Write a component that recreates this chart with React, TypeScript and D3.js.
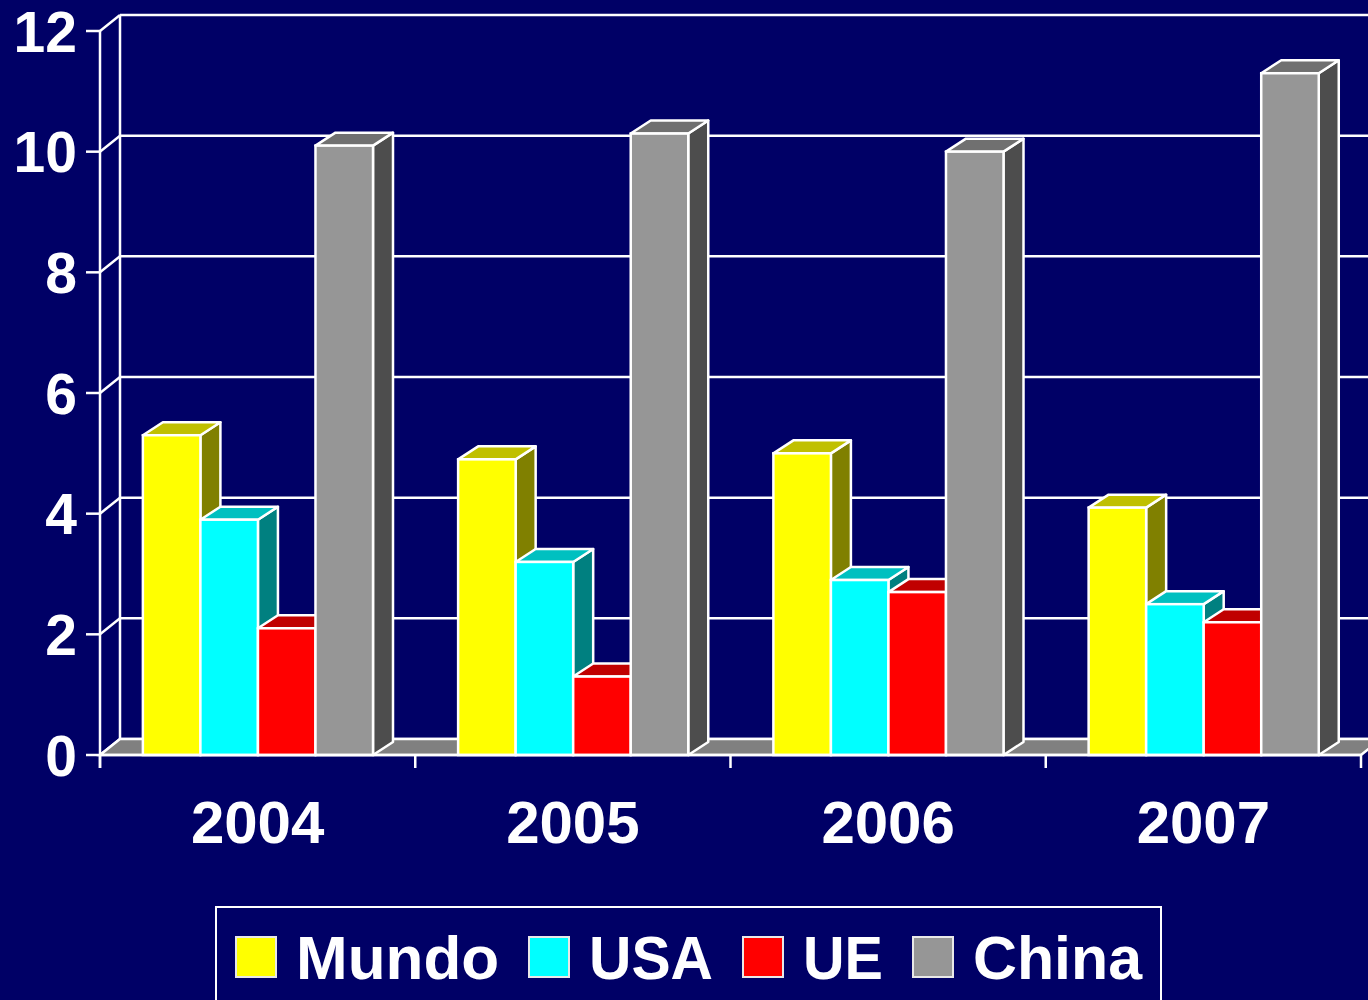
import React, { useEffect, useRef } from "react";
import * as d3 from "d3";

const years = ["2004", "2005", "2006", "2007"];
const seriesNames = ["Mundo", "USA", "UE", "China"];
const mundo = [5.3, 4.9, 5.0, 4.1];
const usa = [3.9, 3.2, 2.9, 2.5];
const ue = [2.1, 1.3, 2.7, 2.2];
const china = [10.1, 10.3, 10.0, 11.3];
const yTicks = [0, 2, 4, 6, 8, 10, 12];

const frontColors = ["#FFFF00", "#00FFFF", "#FF0000", "#969696"];
const topColors = ["#C0C000", "#00C0C0", "#C00000", "#707070"];
const sideColors = ["#808000", "#008080", "#800000", "#4D4D4D"];

const W = 1368;
const H = 1000;
const FONT = "'Liberation Sans', Arial, Helvetica, sans-serif";
const legendSwatchX = [236, 529, 743, 913];

export default function App() {
  const ref = useRef<SVGSVGElement>(null);

  useEffect(() => {
    const svg = d3.select(ref.current);
    svg.selectAll("*").remove();

    const values = [mundo, usa, ue, china];
    const left = 100;
    const right = 1361;
    const y = d3.scaleLinear().domain([0, 12]).range([755, 31]);
    const x0 = d3.scaleBand().domain(years).range([left, right]).padding(0);
    const bw = x0.bandwidth();
    const x1 = d3
      .scaleBand()
      .domain(seriesNames)
      .range([bw * 0.136, bw * 0.866])
      .padding(0);

    const wdx = 20, wdy = -16; // wall depth
    const bdx = 20, bdy = -13; // bar depth
    const SW = 2.5;

    svg.append("rect").attr("width", W).attr("height", H).attr("fill", "#000066");

    const g = svg.append("g");

    yTicks.forEach((t) => {
      g.append("line")
        .attr("x1", left + wdx)
        .attr("x2", W + 30)
        .attr("y1", y(t) + wdy)
        .attr("y2", y(t) + wdy)
        .attr("stroke", "white")
        .attr("stroke-width", SW);
      g.append("line")
        .attr("x1", left)
        .attr("y1", y(t))
        .attr("x2", left + wdx)
        .attr("y2", y(t) + wdy)
        .attr("stroke", "white")
        .attr("stroke-width", SW);
      g.append("line")
        .attr("x1", left - 14)
        .attr("x2", left)
        .attr("y1", y(t))
        .attr("y2", y(t))
        .attr("stroke", "white")
        .attr("stroke-width", SW);
      g.append("text")
        .attr("x", 77)
        .attr("y", y(t))
        .attr("dy", "0.36em")
        .attr("text-anchor", "end")
        .attr("fill", "white")
        .attr("font-family", FONT)
        .attr("font-weight", "bold")
        .attr("font-size", 57)
        .text(String(t));
    });

    g.append("line")
      .attr("x1", left + wdx)
      .attr("x2", left + wdx)
      .attr("y1", y(0) + wdy)
      .attr("y2", y(12) + wdy)
      .attr("stroke", "white")
      .attr("stroke-width", SW);

    const floorPts: [number, number][] = [
      [left, y(0)],
      [right, y(0)],
      [right + wdx, y(0) + wdy],
      [left + wdx, y(0) + wdy],
    ];
    g.append("polygon")
      .attr("points", floorPts.map((p) => p.join(",")).join(" "))
      .attr("fill", "#808080")
      .attr("stroke", "white")
      .attr("stroke-width", SW);

    g.append("line")
      .attr("x1", left)
      .attr("x2", left)
      .attr("y1", y(12))
      .attr("y2", y(0) + 13)
      .attr("stroke", "white")
      .attr("stroke-width", SW);

    years.forEach((yr, i) => {
      seriesNames.forEach((s, j) => {
        const v = values[j][i];
        const xa = (x0(yr) as number) + (x1(s) as number);
        const w = x1.bandwidth();
        const yt = y(v);
        const yb = y(0);
        const bar = g.append("g");
        bar.append("polygon")
          .attr("points", [[xa + w, yb], [xa + w + bdx, yb + bdy], [xa + w + bdx, yt + bdy], [xa + w, yt]].map((p) => p.join(",")).join(" "))
          .attr("fill", sideColors[j])
          .attr("stroke", "white")
          .attr("stroke-width", SW)
          .attr("stroke-linejoin", "round");
        bar.append("polygon")
          .attr("points", [[xa, yt], [xa + w, yt], [xa + w + bdx, yt + bdy], [xa + bdx, yt + bdy]].map((p) => p.join(",")).join(" "))
          .attr("fill", topColors[j])
          .attr("stroke", "white")
          .attr("stroke-width", SW)
          .attr("stroke-linejoin", "round");
        bar.append("rect")
          .attr("x", xa)
          .attr("y", yt)
          .attr("width", w)
          .attr("height", yb - yt)
          .attr("fill", frontColors[j])
          .attr("stroke", "white")
          .attr("stroke-width", SW);
      });
    });

    g.append("line")
      .attr("x1", left)
      .attr("x2", right)
      .attr("y1", y(0))
      .attr("y2", y(0))
      .attr("stroke", "white")
      .attr("stroke-width", SW);

    const tickXs = years.map((yr) => x0(yr) as number).concat([right]);
    tickXs.forEach((tx) => {
      g.append("line")
        .attr("x1", tx)
        .attr("x2", tx)
        .attr("y1", y(0))
        .attr("y2", y(0) + 13)
        .attr("stroke", "white")
        .attr("stroke-width", SW);
    });

    years.forEach((yr) => {
      g.append("text")
        .attr("x", (x0(yr) as number) + bw / 2)
        .attr("y", 843)
        .attr("text-anchor", "middle")
        .attr("fill", "white")
        .attr("font-family", FONT)
        .attr("font-weight", "bold")
        .attr("font-size", 60)
        .text(yr);
    });

    const lg = svg.append("g");
    lg.append("rect")
      .attr("x", 216)
      .attr("y", 907)
      .attr("width", 945)
      .attr("height", 130)
      .attr("fill", "#000066")
      .attr("stroke", "white")
      .attr("stroke-width", 2);
    seriesNames.forEach((s, j) => {
      const sx = legendSwatchX[j];
      lg.append("rect")
        .attr("x", sx)
        .attr("y", 937)
        .attr("width", 40)
        .attr("height", 40)
        .attr("fill", frontColors[j])
        .attr("stroke", "#e8e8e8")
        .attr("stroke-width", 2);
      const nextX = j < seriesNames.length - 1 ? legendSwatchX[j + 1] - 30 : 1142;
      const t = lg.append("text")
        .attr("x", sx + 60)
        .attr("y", 979)
        .attr("fill", "white")
        .attr("font-family", FONT)
        .attr("font-weight", "bold")
        .attr("font-size", 62)
        .text(s);
      const tw = (t.node() as SVGTextElement).getComputedTextLength();
      const avail = nextX - (sx + 60);
      if (Math.abs(tw - avail) > 2) {
        t.attr("textLength", avail).attr("lengthAdjust", "spacingAndGlyphs");
      }
    });
  }, []);

  return (
    <div style={{ position: "absolute", left: 0, top: 0 }}>
      <svg ref={ref} width={W} height={H} style={{ display: "block" }} />
    </div>
  );
}
